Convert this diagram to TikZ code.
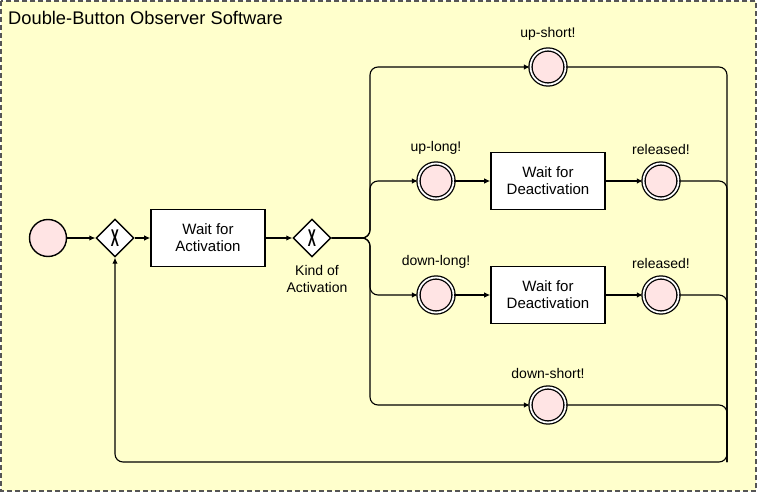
\documentclass[tikz,border=0pt]{standalone}
\usepackage{fontspec}
\setmainfont{Liberation Sans}
\usepackage{tikz}
\usetikzlibrary{arrows.meta, positioning, shapes.geometric}

\definecolor{poolbg}{HTML}{FFFFCC}
\definecolor{eventbg}{HTML}{FFE4E4}
\definecolor{poolline}{HTML}{555555}

\tikzset{
  flowline/.style={line width=1.1pt, rounded corners=8pt},
  flow/.style={flowline, -{Latex[length=6pt, width=5.5pt]}},
  startevent/.style={circle, draw, line width=1.4pt, fill=eventbg, minimum size=37pt, inner sep=0pt},
  endevent/.style={circle, draw, line width=1.3pt, fill=eventbg, minimum size=35pt, inner sep=0pt,
    double=white, double distance=1.8pt},
  task/.style={rectangle, draw, line width=1.6pt, fill=white, minimum width=114pt, minimum height=57pt,
    align=center, font=\fontsize{15}{17}\selectfont},
  xgate/.style={diamond, draw, line width=1.4pt, fill=white, minimum size=38pt, inner sep=0pt,
    font=\fontsize{22}{22}\selectfont\bfseries},
  lbl/.style={font=\fontsize{14}{17}\selectfont, align=center, inner sep=1pt}
}

\begin{document}
\begin{tikzpicture}[x=1pt, y=-1pt]
  \useasboundingbox (0,0) rectangle (757,492);
  % pool
  \draw[poolline, fill=poolbg, line width=1.2pt, dash pattern=on 5pt off 3pt] (1,1) rectangle (756,491);
  \node[anchor=west, font=\fontsize{18.3}{22}\selectfont, inner sep=0pt] (title) at (8,18) {Double-Button Observer Software};

  % nodes
  \node[startevent] (start) at (48,238) {};
  \node[xgate] (g1) at (115,238) {\scalebox{0.55}[1.1]{X}};
  \node[task] (t1) at (208,238) {Wait for\\Activation};
  \node[xgate] (g2) at (312,238) {\scalebox{0.55}[1.1]{X}};
  \node[lbl, below=6pt of g2, xshift=5pt] (g2-l) {Kind of\\Activation};

  \coordinate (split) at (370,238);
  \coordinate (merge) at (727,462);

  \node[endevent] (us) at (548,67) {};
  \node[lbl, above=7pt of us] (us-l) {up-short!};

  \node[endevent] (ul) at (436,181) {};
  \node[lbl, above=7pt of ul] (ul-l) {up-long!};
  \node[task] (tu) at (548,181) {Wait for\\Deactivation};
  \node[endevent] (ru) at (661,181) {};
  \node[lbl, above=7pt of ru] (ru-l) {released!};

  \node[endevent] (dl) at (436,295) {};
  \node[lbl, above=7pt of dl] (dl-l) {down-long!};
  \node[task] (td) at (548,295) {Wait for\\Deactivation};
  \node[endevent] (rd) at (661,295) {};
  \node[lbl, above=7pt of rd] (rd-l) {released!};

  \node[endevent] (ds) at (548,405) {};
  \node[lbl, above=7pt of ds] (ds-l) {down-short!};

  % flows
  \draw[flow] (start) -- (g1);
  \draw[flow] (g1) -- (t1);
  \draw[flow] (t1) -- (g2);
  \draw[flow] (g2.east) -- (split) |- (us);
  \draw[flow] (g2.east) -- (split) |- (ul);
  \draw[flow] (g2.east) -- (split) |- (dl);
  \draw[flow] (g2.east) -- (split) |- (ds);
  \draw[flow] (ul) -- (tu);
  \draw[flow] (tu) -- (ru);
  \draw[flow] (dl) -- (td);
  \draw[flow] (td) -- (rd);

  % back to the first gateway
  \draw[flowline] (ru) -| (merge);
  \draw[flowline] (rd) -| (merge);
  \draw[flowline] (ds) -| (merge);
  \draw[flow] (us) -| (merge) -| (g1);
\end{tikzpicture}
\end{document}
